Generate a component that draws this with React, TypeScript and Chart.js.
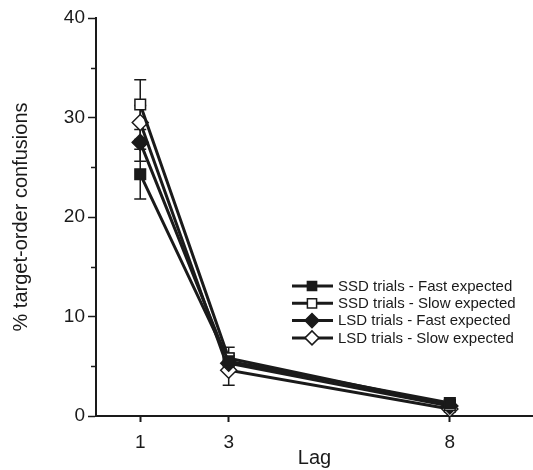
import React, { useEffect, useRef } from 'react';
import { Chart, registerables } from 'chart.js';

Chart.register(...registerables);

const lags = [1, 3, 8];
const seriesLabels = [
  'SSD trials - Fast expected',
  'SSD trials - Slow expected',
  'LSD trials - Fast expected',
  'LSD trials - Slow expected',
];
const ssdFast = [24.3, 5.5, 1.3];
const ssdSlow = [31.3, 5.8, 1.1];
const lsdFast = [27.5, 5.3, 1.0];
const lsdSlow = [29.5, 4.6, 0.7];
const ssdFastErr = [2.5, 0.8, 0.3];
const ssdSlowErr = [2.5, 1.1, 0.3];
const lsdFastErr = [1.9, 0.8, 0.3];
const lsdSlowErr = [1.7, 1.5, 0.3];
const yMajorTicks = [0, 10, 20, 30, 40];
const yMinorTicks = [5, 15, 25, 35];
const xTicks = [1, 3, 8];

const INK = '#1a1a1a';
const FONT = "'Liberation Sans', Arial, Helvetica, sans-serif";

const seriesValues = [ssdFast, ssdSlow, lsdFast, lsdSlow];
const seriesErrors = [ssdFastErr, ssdSlowErr, lsdFastErr, lsdSlowErr];
const seriesStyles = [
  { pointStyle: 'rect', fill: INK, radius: 7.5 },
  { pointStyle: 'rect', fill: '#ffffff', radius: 7.5 },
  { pointStyle: 'rectRot', fill: INK, radius: 8 },
  { pointStyle: 'rectRot', fill: '#ffffff', radius: 8 },
];

function drawMarker(ctx: CanvasRenderingContext2D, style: string, x: number, y: number, r: number, fill: string) {
  ctx.save();
  ctx.beginPath();
  if (style === 'rect') {
    const s = r * Math.SQRT1_2;
    ctx.rect(x - s, y - s, 2 * s, 2 * s);
  } else {
    ctx.moveTo(x - r, y);
    ctx.lineTo(x, y - r);
    ctx.lineTo(x + r, y);
    ctx.lineTo(x, y + r);
    ctx.closePath();
  }
  ctx.fillStyle = fill;
  ctx.fill();
  ctx.lineWidth = 1.5;
  ctx.strokeStyle = INK;
  ctx.stroke();
  ctx.restore();
}

const errorBarPlugin = {
  id: 'errorBars',
  beforeDatasetsDraw(chart: any) {
    const ctx = chart.ctx;
    const yScale = chart.scales.y;
    ctx.save();
    ctx.strokeStyle = INK;
    ctx.lineWidth = 1.5;
    chart.data.datasets.forEach((ds: any, i: number) => {
      const meta = chart.getDatasetMeta(i);
      meta.data.forEach((pt: any, j: number) => {
        const v = seriesValues[i][j];
        const e = seriesErrors[i][j];
        const x = pt.x;
        const yt = yScale.getPixelForValue(v + e);
        const yb = yScale.getPixelForValue(v - e);
        ctx.beginPath();
        ctx.moveTo(x, yt);
        ctx.lineTo(x, yb);
        ctx.moveTo(x - 6, yt);
        ctx.lineTo(x + 6, yt);
        ctx.moveTo(x - 6, yb);
        ctx.lineTo(x + 6, yb);
        ctx.stroke();
      });
    });
    ctx.restore();
  },
};

const minorTickPlugin = {
  id: 'minorTicks',
  afterDraw(chart: any) {
    const ctx = chart.ctx;
    const yScale = chart.scales.y;
    const left = chart.chartArea.left;
    ctx.save();
    ctx.strokeStyle = INK;
    ctx.lineWidth = 1.5;
    yMinorTicks.forEach((v) => {
      const y = Math.round(yScale.getPixelForValue(v)) + 0.5;
      ctx.beginPath();
      ctx.moveTo(left - 5, y);
      ctx.lineTo(left, y);
      ctx.stroke();
    });
    ctx.restore();
  },
};

const legendPlugin = {
  id: 'customLegend',
  afterDraw(chart: any) {
    const ctx = chart.ctx;
    const x0 = 292;
    const x1 = 333;
    const xm = 312;
    const y0 = 286;
    const dy = 17.3;
    ctx.save();
    chart.data.datasets.forEach((ds: any, i: number) => {
      const y = y0 + i * dy;
      ctx.beginPath();
      ctx.strokeStyle = INK;
      ctx.lineWidth = 3;
      ctx.moveTo(x0, y);
      ctx.lineTo(x1, y);
      ctx.stroke();
      const st = seriesStyles[i];
      drawMarker(ctx, st.pointStyle, xm, y, st.pointStyle === 'rect' ? 6.5 : 7, st.fill);
      ctx.fillStyle = INK;
      ctx.font = `15px ${FONT}`;
      ctx.textBaseline = 'middle';
      ctx.textAlign = 'left';
      ctx.fillText(ds.label, 338, y + 0.5);
    });
    ctx.restore();
  },
};

export default function App() {
  const canvasRef = useRef<HTMLCanvasElement | null>(null);

  useEffect(() => {
    if (!canvasRef.current) return;
    const datasets = seriesValues.map((vals, i) => ({
      label: seriesLabels[i],
      data: lags.map((lag, j) => ({ x: lag, y: vals[j] })),
      borderColor: INK,
      borderWidth: 3,
      backgroundColor: seriesStyles[i].fill,
      pointBackgroundColor: seriesStyles[i].fill,
      pointBorderColor: INK,
      pointBorderWidth: 1.5,
      pointStyle: seriesStyles[i].pointStyle,
      pointRadius: seriesStyles[i].radius,
      pointHoverRadius: seriesStyles[i].radius,
      tension: 0,
      fill: false,
    }));

    const chart = new Chart(canvasRef.current, {
      type: 'line',
      data: { datasets } as any,
      plugins: [errorBarPlugin, minorTickPlugin, legendPlugin],
      options: {
        animation: false,
        responsive: false,
        layout: { autoPadding: false, padding: { top: 18, right: 0, left: 0, bottom: 0 } },
        plugins: { legend: { display: false }, tooltip: { enabled: false } },
        scales: {
          x: {
            type: 'linear',
            min: 0,
            max: 9.88,
            afterBuildTicks: (scale: any) => {
              scale.ticks = xTicks.map((v) => ({ value: v }));
            },
            afterFit: (scale: any) => {
              scale.height = 54;
              scale.paddingLeft = 0;
              scale.paddingRight = 0;
            },
            ticks: {
              color: INK,
              font: { family: FONT, size: 19 },
              padding: 9,
              maxRotation: 0,
              autoSkip: false,
            },
            grid: {
              drawOnChartArea: false,
              drawTicks: true,
              tickLength: 6,
              tickWidth: 2,
              tickColor: INK,
              color: INK,
            },
            border: { display: true, color: INK, width: 2 },
            title: {
              display: true,
              text: 'Lag',
              color: INK,
              font: { family: FONT, size: 20 },
              padding: { top: 0, bottom: 0 },
            },
          },
          y: {
            type: 'linear',
            min: 0,
            max: 40,
            afterBuildTicks: (scale: any) => {
              scale.ticks = yMajorTicks.map((v) => ({ value: v }));
            },
            afterFit: (scale: any) => {
              scale.width = 96;
              scale.paddingTop = 0;
              scale.paddingBottom = 0;
            },
            ticks: {
              color: INK,
              font: { family: FONT, size: 19 },
              padding: 3,
            },
            grid: {
              drawOnChartArea: false,
              drawTicks: true,
              tickLength: 8,
              tickWidth: 1.5,
              tickColor: INK,
              color: INK,
            },
            border: { display: true, color: INK, width: 2 },
            title: {
              display: true,
              text: '% target-order confusions',
              color: INK,
              font: { family: FONT, size: 20 },
              padding: { top: 9, bottom: 0 },
            },
          },
        },
      } as any,
    });
    return () => chart.destroy();
  }, []);

  return (
    <div style={{ position: 'absolute', left: 0, top: 0, width: 533, height: 470, background: '#fff' }}>
      <canvas ref={canvasRef} width={533} height={470} style={{ display: 'block' }} />
    </div>
  );
}
